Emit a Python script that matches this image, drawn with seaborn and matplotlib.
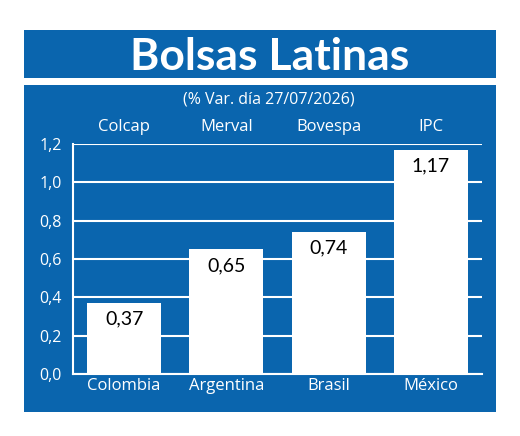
import matplotlib
matplotlib.use("Agg")
import matplotlib.pyplot as plt
from matplotlib.patches import Rectangle
from matplotlib.ticker import FuncFormatter, FixedLocator
import seaborn as sns
import pandas as pd

paises = ["Colombia", "Argentina", "Brasil", "México"]
indices = ["Colcap", "Merval", "Bovespa", "IPC"]
valores = [0.37, 0.65, 0.74, 1.17]
titulo = "Bolsas Latinas"
subtitulo = "(% Var. día 27/07/2026)"

BLUE = "#0a65ae"
FONT = ["Open Sans", "DejaVu Sans"]

sns.set_style("white")
plt.rcParams["font.family"] = FONT

W, H = 520, 436
fig = plt.figure(figsize=(W / 100, H / 100), dpi=100, facecolor="white")

def px_rect(x0, y0, x1, y1):
    return Rectangle((x0 / W, 1 - y1 / H), (x1 - x0) / W, (y1 - y0) / H,
                     transform=fig.transFigure, facecolor=BLUE, edgecolor="none", zorder=0)

fig.patches.append(px_rect(24, 30, 496, 78))
fig.patches.append(px_rect(24, 85, 496, 412))

fig.text(270 / W, 1 - 70 / H, titulo, ha="center", va="baseline", color="white",
         fontsize=32, fontweight="bold", family=["Lato", "DejaVu Sans"])
fig.text(269 / W, 1 - 100 / H, subtitulo, ha="center", va="center", color="white",
         fontsize=11.5)

ax = fig.add_axes([73 / W, 62 / H, (482 - 73) / W, (374 - 144) / H])
ax.set_zorder(5)
ax.patch.set_alpha(0)

df = pd.DataFrame({"pais": paises, "valor": valores})
sns.barplot(data=df, x="pais", y="valor", color="white", saturation=1,
            width=0.725, edgecolor="none", ax=ax, zorder=3)

ax.set_xlim(-0.5, 3.5)
ax.set_ylim(0, 1.2)
ax.set_yticks([0, 0.2, 0.4, 0.6, 0.8, 1.0, 1.2])
ax.yaxis.set_major_formatter(FuncFormatter(lambda v, p: f"{v:.1f}".replace(".", ",")))
ax.grid(axis="y", color="white", linewidth=1.5, zorder=0)
ax.set_axisbelow(True)
ax.set_xlabel("")
ax.set_ylabel("")

for s in ["top", "right"]:
    ax.spines[s].set_visible(False)
for s in ["left", "bottom"]:
    ax.spines[s].set_color("white")
    ax.spines[s].set_linewidth(1.5)

ax.tick_params(axis="y", length=0, pad=8, labelcolor="white", labelsize=11.5)
ax.tick_params(axis="x", length=0, pad=3, labelcolor="white", labelsize=12)
ax.xaxis.set_minor_locator(FixedLocator([0.5, 1.5, 2.5, 3.5]))
ax.tick_params(axis="x", which="minor", direction="in", length=4, width=1.2, color="white")

for i, (idx, v) in enumerate(zip(indices, valores)):
    ax.text(i, 1.289, idx, ha="center", va="center", color="white", fontsize=12)
    ax.annotate(f"{v:.2f}".replace(".", ","), xy=(i, v), xytext=(0, -16),
                textcoords="offset pixels", ha="center", va="center",
                color="black", fontsize=14, fontweight="normal",
                family=["Lato", "DejaVu Sans"], zorder=5)

fig.savefig("out.png", dpi=100, facecolor="white")
